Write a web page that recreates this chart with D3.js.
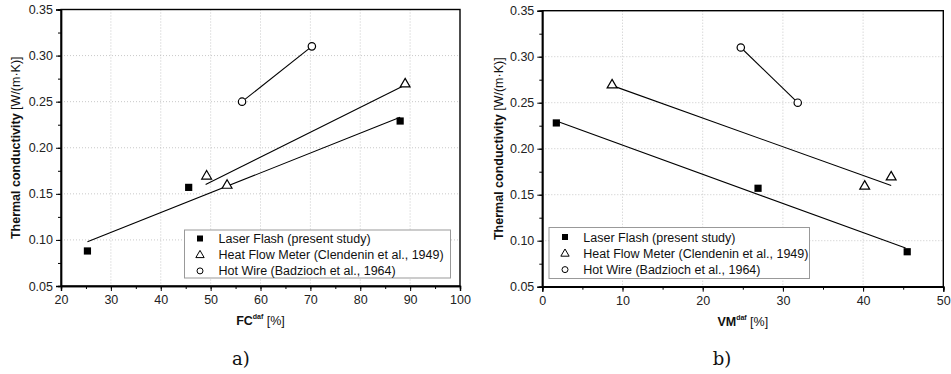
<!DOCTYPE html>
<html><head><meta charset="utf-8">
<script src="https://cdn.jsdelivr.net/npm/d3@7"></script>
<style>body{margin:0;background:#fff}svg{display:block}</style>
</head><body>
<svg id="c" width="951" height="374"></svg>
<script>
// ---- data ----
const seriesNames = ["Laser Flash (present study)", "Heat Flow Meter (Clendenin et al., 1949)", "Hot Wire (Badzioch et al., 1964)"];
const yTicks = [0.05, 0.10, 0.15, 0.20, 0.25, 0.30, 0.35];
// panel a) FC daf
const fcTicks = [20, 30, 40, 50, 60, 70, 80, 90, 100];
const fcLaserX = [25.3, 45.6, 88.0];
const fcLaserY = [0.088, 0.157, 0.229];
const fcHfmX = [49.2, 53.3, 89.0];
const fcHfmY = [0.170, 0.160, 0.270];
const fcHwX = [56.3, 70.3];
const fcHwY = [0.250, 0.310];
const fcLaserFitX = [25.3, 88.0];
const fcLaserFitY = [0.098, 0.233];
const fcHfmFitX = [49.0, 88.6];
const fcHfmFitY = [0.160, 0.267];
// panel b) VM daf
const vmTicks = [0, 10, 20, 30, 40, 50];
const vmLaserX = [1.75, 26.9, 45.5];
const vmLaserY = [0.228, 0.157, 0.088];
const vmHfmX = [8.7, 40.2, 43.5];
const vmHfmY = [0.270, 0.160, 0.170];
const vmHwX = [24.75, 31.85];
const vmHwY = [0.310, 0.250];
const vmLaserFitX = [1.75, 45.3];
const vmLaserFitY = [0.230, 0.092];
const vmHfmFitX = [8.9, 43.5];
const vmHfmFitY = [0.268, 0.160];

const svg = d3.select("#c");
const FONT = "'Liberation Sans', Arial, sans-serif";

function zip(xs, ys){ return xs.map((x,i)=>[x, ys[i]]); }

function panel(o){
  const g = svg.append("g");
  const x = d3.scaleLinear().domain(o.xDomain).range([o.left, o.right]);
  const y = d3.scaleLinear().domain([0.05, 0.35]).range([o.bottom, o.top]);
  // grid
  g.append("g").selectAll("line").data(o.xTicks.slice(1, -1)).join("line")
    .attr("x1", d=>x(d)).attr("x2", d=>x(d)).attr("y1", o.top).attr("y2", o.bottom)
    .attr("stroke", "#bbb").attr("stroke-width", 0.8).attr("stroke-dasharray", "1,2");
  g.append("g").selectAll("line").data(yTicks.slice(1, -1)).join("line")
    .attr("y1", d=>y(d)).attr("y2", d=>y(d)).attr("x1", o.left).attr("x2", o.right)
    .attr("stroke", "#bbb").attr("stroke-width", 0.8).attr("stroke-dasharray", "1,2");
  // frame
  g.append("rect").attr("x", o.left).attr("y", o.top).attr("width", o.right-o.left).attr("height", o.bottom-o.top)
    .attr("fill", "none").attr("stroke", "#000").attr("stroke-width", 1.4);
  // axes
  const xMinor = d3.range(o.xDomain[0], o.xDomain[1] + 0.001, 5);
  const yMinor = d3.range(0.05, 0.3501, 0.025);
  const xAxisMinor = d3.axisBottom(x).tickValues(xMinor).tickSize(3).tickFormat("");
  const xAxis = d3.axisBottom(x).tickValues(o.xTicks).tickSize(5).tickPadding(4).tickFormat(d3.format("d"));
  const yAxisMinor = d3.axisLeft(y).tickValues(yMinor).tickSize(3).tickFormat("");
  const yAxis = d3.axisLeft(y).tickValues(yTicks).tickSize(5).tickPadding(3).tickFormat(d3.format(".2f"));
  [[xAxisMinor, `translate(0,${o.bottom})`], [xAxis, `translate(0,${o.bottom})`],
   [yAxisMinor, `translate(${o.left},0)`], [yAxis, `translate(${o.left},0)`]].forEach(([ax, tr])=>{
    const a = g.append("g").attr("transform", tr).call(ax);
    a.select(".domain").attr("stroke", "#000").attr("stroke-width", 1.4);
    a.selectAll(".tick line").attr("stroke", "#000").attr("stroke-width", 1);
    a.selectAll("text").attr("font-family", FONT).attr("font-size", 12.5).attr("fill", "#222");
  });
  // fit lines
  const line = d3.line().x(d=>x(d[0])).y(d=>y(d[1]));
  o.fits.forEach(f=>{
    g.append("path").attr("d", line(f)).attr("fill", "none").attr("stroke", "#000").attr("stroke-width", 1.1);
  });
  // markers
  g.append("g").selectAll("rect").data(o.laser).join("rect")
    .attr("x", d=>x(d[0])-3.6).attr("y", d=>y(d[1])-3.6).attr("width", 7.2).attr("height", 7.2).attr("fill", "#000");
  const tri = d3.symbol().type(d3.symbolTriangle).size(42);
  g.append("g").selectAll("path").data(o.hfm).join("path")
    .attr("d", tri).attr("transform", d=>`translate(${x(d[0])},${y(d[1])+0.8})`)
    .attr("fill", "#fff").attr("stroke", "#000").attr("stroke-width", 1.2);
  g.append("g").selectAll("circle").data(o.hw).join("circle")
    .attr("cx", d=>x(d[0])).attr("cy", d=>y(d[1])).attr("r", 3.7)
    .attr("fill", "#fff").attr("stroke", "#000").attr("stroke-width", 1.2);
  // legend
  const L = o.legend;
  g.append("rect").attr("x", L.x).attr("y", L.y).attr("width", L.w).attr("height", L.h)
    .attr("fill", "#fff").attr("stroke", "#999").attr("stroke-width", 1);
  seriesNames.forEach((name, i)=>{
    const cy = L.y + L.row0 + i*L.dy;
    if(i===0) g.append("rect").attr("x", L.sx-3).attr("y", cy-3).attr("width", 6).attr("height", 6).attr("fill", "#000");
    if(i===1) g.append("path").attr("d", d3.symbol().type(d3.symbolTriangle).size(30)).attr("transform", `translate(${L.sx},${cy+0.5})`).attr("fill", "none").attr("stroke", "#000").attr("stroke-width", 1);
    if(i===2) g.append("circle").attr("cx", L.sx).attr("cy", cy).attr("r", 3).attr("fill", "none").attr("stroke", "#000").attr("stroke-width", 1);
    g.append("text").attr("x", L.tx).attr("y", cy).attr("dy", "0.36em").text(name)
      .attr("font-family", FONT).attr("font-size", 12.5).attr("fill", "#111");
  });
  // axis titles
  const xt = g.append("text").attr("x", (o.left+o.right)/2).attr("y", o.bottom+39).attr("text-anchor", "middle")
    .attr("font-family", FONT).attr("font-size", 12.5).attr("fill", "#111");
  xt.append("tspan").attr("font-weight", "bold").text(o.xName);
  xt.append("tspan").attr("font-size", 7).attr("font-weight", "bold").attr("dy", -6).text("daf");
  xt.append("tspan").attr("dy", 6).text(" [%]");
  const yc = (o.top+o.bottom)/2;
  const yt = g.append("text").attr("transform", `translate(${o.ylabX},${yc}) rotate(-90)`).attr("text-anchor", "middle")
    .attr("font-family", FONT).attr("font-size", 12.5).attr("fill", "#111");
  yt.append("tspan").attr("font-weight", "bold").text("Thermal conductivity ");
  yt.append("tspan").text("[W/(m\u00B7K)]");
  // caption
  svg.append("text").attr("x", o.capX).attr("y", 365).attr("text-anchor", "middle")
    .attr("font-family", "'DejaVu Serif', 'Liberation Serif', serif").attr("font-size", 18).attr("fill", "#111").text(o.caption);
}

panel({
  xDomain: [20, 100], xTicks: fcTicks, left: 61, right: 460, top: 9.5, bottom: 286,
  laser: zip(fcLaserX, fcLaserY), hfm: zip(fcHfmX, fcHfmY), hw: zip(fcHwX, fcHwY),
  fits: [zip(fcLaserFitX, fcLaserFitY), zip(fcHfmFitX, fcHfmFitY), zip(fcHwX, fcHwY)],
  legend: {x: 184.5, y: 230, w: 266, h: 48, row0: 8.5, dy: 16.2, sx: 200, tx: 218.5},
  xName: "FC", ylabX: 20, caption: "a)", capX: 241
});
panel({
  xDomain: [0, 50], xTicks: vmTicks, left: 542.3, right: 943.3, top: 10.7, bottom: 286.7,
  laser: zip(vmLaserX, vmLaserY), hfm: zip(vmHfmX, vmHfmY), hw: zip(vmHwX, vmHwY),
  fits: [zip(vmLaserFitX, vmLaserFitY), zip(vmHfmFitX, vmHfmFitY), zip(vmHwX, vmHwY)],
  legend: {x: 549, y: 227.5, w: 260.5, h: 51, row0: 9.5, dy: 16.3, sx: 565, tx: 583.3},
  xName: "VM", ylabX: 503, caption: "b)", capX: 722
});
</script>
</body></html>
